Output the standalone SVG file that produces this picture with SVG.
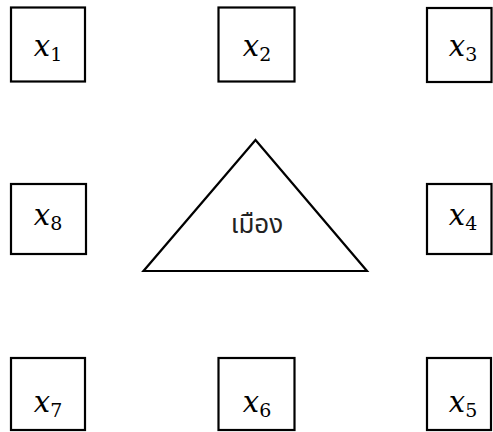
<svg xmlns="http://www.w3.org/2000/svg" width="493" height="432" viewBox="0 0 493 432">
<style>
.box{fill:#fff;stroke:#000;stroke-width:2.2}
.tri{fill:#fff;stroke:#000;stroke-width:2.2;stroke-linejoin:miter}
.v{font-family:'DejaVu Serif','Liberation Serif',serif;font-style:italic;font-size:29px;fill:#000}
.s{font-style:normal;font-size:19px}
.th{font-family:'Noto Sans','Noto Sans Thai',sans-serif;font-size:26px;fill:#222}
</style>
<rect width="493" height="432" fill="#fff"/>
<g id="x1"><rect class="box" x="11" y="7.5" width="74" height="74"/><text class="v" x="48" y="56" text-anchor="middle">x<tspan class="s" dy="5">1</tspan></text></g>
<g id="x2"><rect class="box" x="218.5" y="7.5" width="76" height="74"/><text class="v" x="257" y="56" text-anchor="middle">x<tspan class="s" dy="5">2</tspan></text></g>
<g id="x3"><rect class="box" x="427" y="8" width="64.5" height="74"/><text class="v" x="463" y="56" text-anchor="middle">x<tspan class="s" dy="5">3</tspan></text></g>
<g id="x8"><rect class="box" x="11" y="184" width="75" height="70"/><text class="v" x="48" y="225" text-anchor="middle">x<tspan class="s" dy="5">8</tspan></text></g>
<g id="x4"><rect class="box" x="427" y="184" width="64.5" height="70"/><text class="v" x="463" y="225" text-anchor="middle">x<tspan class="s" dy="5">4</tspan></text></g>
<g id="x7"><rect class="box" x="11" y="358" width="74" height="72"/><text class="v" x="48" y="412" text-anchor="middle">x<tspan class="s" dy="5">7</tspan></text></g>
<g id="x6"><rect class="box" x="218.5" y="358" width="76" height="72"/><text class="v" x="257" y="412" text-anchor="middle">x<tspan class="s" dy="5">6</tspan></text></g>
<g id="x5"><rect class="box" x="427" y="358" width="64" height="72"/><text class="v" x="463" y="412" text-anchor="middle">x<tspan class="s" dy="5">5</tspan></text></g>
<g id="city"><polygon class="tri" points="255.5,140 143.5,271 367,271"/><text class="th" x="257" y="233" text-anchor="middle">เมือง</text></g>
<g id="connectors"></g>
</svg>
